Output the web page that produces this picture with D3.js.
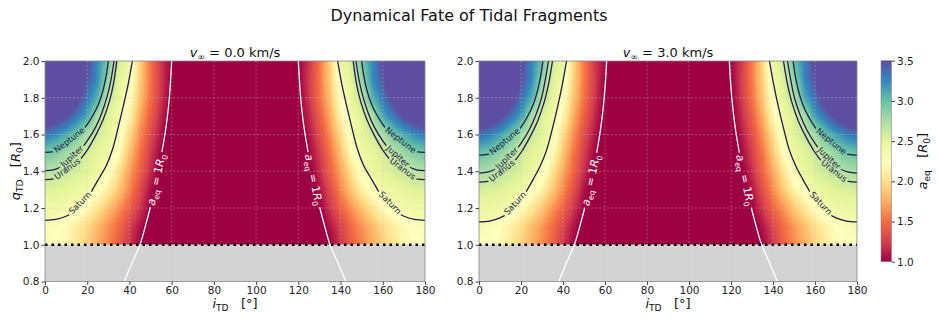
<!DOCTYPE html>
<html>
<head>
<meta charset="utf-8">
<script src="https://cdn.jsdelivr.net/npm/d3@7"></script>
<style>
  body { margin: 0; background: #fff; }
  svg { font-family: 'DejaVu Sans', sans-serif; }
  text { white-space: pre; }
</style>
</head>
<body>
<div id="chart"></div>
<script>
// ---- data ----
// a_eq grid: rows = q_TD (1.0 .. 2.0), columns = i_TD (0 .. 65 deg); field is mirrored about i = 90
const incl = [0, 5, 10, 15, 20, 25, 30, 35, 40, 45, 50, 55, 60, 65];
const qRows = [1.0, 1.1, 1.2, 1.3, 1.4, 1.5, 1.6, 1.7, 1.8, 1.9, 2.0];

const aeqV0 = [
  [2.27, 2.24, 2.17, 2.05, 1.91, 1.74, 1.59, 1.42, 1.21, 1.00, 0.85, 0.72, 0.62, 0.55],
  [2.32, 2.29, 2.21, 2.11, 1.97, 1.80, 1.64, 1.48, 1.28, 1.08, 0.92, 0.78, 0.66, 0.58],
  [2.41, 2.40, 2.38, 2.35, 2.23, 2.05, 1.84, 1.64, 1.44, 1.22, 0.99, 0.85, 0.72, 0.62],
  [2.54, 2.52, 2.49, 2.43, 2.38, 2.30, 2.12, 1.87, 1.60, 1.33, 1.06, 0.88, 0.75, 0.65],
  [2.71, 2.68, 2.63, 2.57, 2.51, 2.44, 2.32, 2.02, 1.70, 1.44, 1.17, 0.94, 0.80, 0.69],
  [2.95, 2.90, 2.79, 2.67, 2.56, 2.48, 2.41, 2.23, 1.84, 1.52, 1.24, 1.01, 0.85, 0.73],
  [3.31, 3.23, 3.10, 2.95, 2.74, 2.59, 2.48, 2.35, 1.98, 1.62, 1.33, 1.08, 0.90, 0.77],
  [3.75, 3.68, 3.52, 3.32, 3.12, 2.72, 2.52, 2.39, 2.17, 1.74, 1.42, 1.15, 0.93, 0.80],
  [4.20, 4.10, 3.88, 3.58, 3.32, 3.07, 2.65, 2.48, 2.27, 1.84, 1.50, 1.21, 0.96, 0.83],
  [4.70, 4.58, 4.25, 3.82, 3.46, 3.21, 2.81, 2.51, 2.36, 1.90, 1.52, 1.23, 0.98, 0.85],
  [5.26, 5.10, 4.70, 4.10, 3.52, 3.23, 2.95, 2.57, 2.44, 1.92, 1.52, 1.21, 1.00, 0.86]
];

const aeqV3 = [
  [2.30, 2.27, 2.20, 2.08, 1.94, 1.77, 1.61, 1.44, 1.22, 1.01, 0.86, 0.73, 0.63, 0.56],
  [2.35, 2.32, 2.24, 2.14, 2.00, 1.83, 1.67, 1.50, 1.30, 1.09, 0.93, 0.79, 0.67, 0.59],
  [2.44, 2.43, 2.41, 2.38, 2.26, 2.08, 1.87, 1.66, 1.46, 1.23, 1.00, 0.86, 0.73, 0.63],
  [2.58, 2.56, 2.53, 2.47, 2.41, 2.33, 2.15, 1.90, 1.62, 1.35, 1.08, 0.89, 0.76, 0.66],
  [2.76, 2.73, 2.68, 2.61, 2.55, 2.47, 2.35, 2.05, 1.73, 1.46, 1.19, 0.96, 0.81, 0.70],
  [3.00, 2.95, 2.84, 2.71, 2.60, 2.51, 2.44, 2.26, 1.87, 1.54, 1.26, 1.03, 0.86, 0.74],
  [3.36, 3.28, 3.15, 2.99, 2.78, 2.63, 2.51, 2.38, 2.01, 1.64, 1.35, 1.10, 0.91, 0.78],
  [3.80, 3.73, 3.57, 3.36, 3.16, 2.76, 2.56, 2.42, 2.20, 1.76, 1.44, 1.17, 0.94, 0.81],
  [4.25, 4.15, 3.93, 3.63, 3.36, 3.11, 2.69, 2.51, 2.30, 1.87, 1.52, 1.23, 0.97, 0.84],
  [4.75, 4.63, 4.30, 3.87, 3.50, 3.25, 2.85, 2.54, 2.39, 1.93, 1.54, 1.25, 0.99, 0.86],
  [5.30, 5.15, 4.75, 4.15, 3.56, 3.27, 2.99, 2.60, 2.47, 1.95, 1.55, 1.24, 1.02, 0.87]
];

// contour lines [i_TD, q_TD], left half only (mirrored about 90 deg)
const neptuneV0 = [[0,1.503],[4,1.507],[8,1.52],[12,1.55],[16,1.595],[20,1.655],[23,1.71],[25.5,1.77],[27.5,1.84],[29,1.92],[30,2.0]];
const jupiterV0 = [[0,1.403],[4,1.408],[8,1.425],[12,1.46],[16,1.505],[20,1.565],[24,1.64],[27,1.72],[29.5,1.81],[31.3,1.9],[32.7,2.0]];
const uranusV0  = [[0,1.354],[4,1.358],[8,1.375],[12,1.405],[16,1.455],[20,1.515],[24,1.595],[27.5,1.68],[30.5,1.78],[32.5,1.88],[34,2.0]];
const saturnV0  = [[0,1.133],[5,1.138],[10,1.155],[15,1.19],[19,1.235],[22.5,1.30],[26,1.37],[29,1.43],[32,1.52],[34.7,1.64],[37.2,1.76],[39.5,1.88],[41.4,2.0]];
const unitV0    = [[37.5,0.8],[41.2,0.9],[45,1.0],[47.5,1.1],[49.8,1.2],[51.8,1.3],[53.6,1.4],[55.3,1.5],[56.8,1.6],[58,1.7],[58.9,1.8],[59.5,1.9],[60,2.0]];

const neptuneV3 = [[0,1.488],[4,1.492],[8,1.505],[12,1.535],[16,1.58],[20,1.64],[23,1.695],[25.7,1.76],[27.8,1.835],[29.4,1.92],[30.4,2.0]];
const jupiterV3 = [[0,1.39],[4,1.395],[8,1.412],[12,1.447],[16,1.492],[20,1.552],[24,1.627],[27.2,1.71],[29.8,1.80],[31.6,1.9],[33.1,2.0]];
const uranusV3  = [[0,1.341],[4,1.345],[8,1.362],[12,1.392],[16,1.442],[20,1.502],[24,1.58],[27.8,1.67],[31,1.775],[33.3,1.885],[35,2.0]];
const saturnV3  = [[0,1.124],[5,1.129],[10,1.146],[15,1.181],[19,1.226],[22.5,1.29],[26,1.36],[29.2,1.43],[32.2,1.515],[35,1.635],[37.5,1.755],[39.8,1.88],[41.7,2.0]];
const unitV3    = [[38,0.8],[41.6,0.9],[45.4,1.0],[48,1.1],[50.3,1.2],[52.4,1.3],[54.3,1.4],[56,1.5],[57.5,1.6],[58.7,1.7],[59.6,1.8],[60.3,1.9],[60.8,2.0]];

const xTicks = [0, 20, 40, 60, 80, 100, 120, 140, 160, 180];
const yTicks = [0.8, 1.0, 1.2, 1.4, 1.6, 1.8, 2.0];
const cbTicks = [1.0, 1.5, 2.0, 2.5, 3.0, 3.5];

const panels = [
  { x0: 45, x1: 425, vinf: '0.0', grid: aeqV0,
    planets: [['Neptune', neptuneV0, [4.5, 18.5]], ['Jupiter', jupiterV0, [7, 18.5]],
              ['Uranus', uranusV0, [4, 17]], ['Saturn', saturnV0, [10.6, 22.4]]],
    unit: unitV0, unitSpan: [50.2, 55.1] },
  { x0: 479, x1: 857, vinf: '3.0', grid: aeqV3,
    planets: [['Neptune', neptuneV3, [5, 19.4]], ['Jupiter', jupiterV3, [7.8, 18.6]],
              ['Uranus', uranusV3, [4.8, 17]], ['Saturn', saturnV3, [11.5, 22.8]]],
    unit: unitV3, unitSpan: [50.6, 55.8] }
];

// ---- setup ----
const W = 938, H = 319;
const ink = '#231a4d';
const svg = d3.select('#chart').append('svg').attr('width', W).attr('height', H);
const y = d3.scaleLinear().domain([0.8, 2.0]).range([281.5, 61]);
const color = d3.scaleLinear()
    .domain(d3.range(11).map(k => 1 + k * 0.25))
    .range(d3.schemeSpectral[11])
    .clamp(true);

// math-ish text: parts = [text, italic?, sub?]
function mathText(sel, parts, size){
    let sub = false;
    parts.forEach(([t, it, s]) => {
        const ts = sel.append('tspan').text(t)
            .attr('font-style', it ? 'italic' : 'normal')
            .attr('font-size', s ? size * 0.7 : size);
        if(s && !sub) ts.attr('dy', size * 0.25);
        if(!s && sub) ts.attr('dy', -size * 0.25);
        sub = s;
    });
    return sel;
}

function bilinear(grid, fx, fy){
    const nc = grid[0].length, nr = grid.length;
    const c0 = Math.min(Math.floor(fx), nc - 2), r0 = Math.min(Math.floor(fy), nr - 2);
    const tx = fx - c0, ty = fy - r0;
    return grid[r0][c0] * (1 - tx) * (1 - ty) + grid[r0][c0 + 1] * tx * (1 - ty)
         + grid[r0 + 1][c0] * (1 - tx) * ty + grid[r0 + 1][c0 + 1] * tx * ty;
}

// q on a contour at a given inclination
function qAt(line, inc){
    return d3.scaleLinear().domain(line.map(d => d[0])).range(line.map(d => d[1]))(inc);
}

const colIdx = d3.scaleLinear().domain(d3.extent(incl)).range([0, incl.length - 1]).clamp(true);
const rowIdx = d3.scaleLinear().domain(d3.extent(qRows)).range([0, qRows.length - 1]).clamp(true);

// title
svg.append('text')
    .attr('x', 469).attr('y', 21)
    .attr('text-anchor', 'middle')
    .attr('font-size', 16)
    .attr('fill', '#111')
    .text('Dynamical Fate of Tidal Fragments');

panels.forEach((p, pi) => {
    const x = d3.scaleLinear().domain([0, 180]).range([p.x0, p.x1]);
    const g = svg.append('g');
    const top = y(2.0), bot = y(1.0), base = y(0.8);

    // heatmap
    const w = Math.round(p.x1 - p.x0), h = Math.round(bot - top);
    const canvas = document.createElement('canvas');
    canvas.width = w; canvas.height = h;
    const ctx = canvas.getContext('2d');
    const img = ctx.createImageData(w, h);
    for(let py = 0; py < h; py++){
        const q = y.invert(top + (py + 0.5) * (bot - top) / h);
        for(let px = 0; px < w; px++){
            let inc = x.invert(p.x0 + (px + 0.5) * (p.x1 - p.x0) / w);
            if(inc > 90) inc = 180 - inc;
            const c = d3.rgb(color(bilinear(p.grid, colIdx(inc), rowIdx(q))));
            const k = (py * w + px) * 4;
            img.data[k] = c.r; img.data[k + 1] = c.g; img.data[k + 2] = c.b; img.data[k + 3] = 255;
        }
    }
    ctx.putImageData(img, 0, 0);
    g.append('image')
        .attr('href', canvas.toDataURL())
        .attr('x', p.x0).attr('y', top)
        .attr('width', p.x1 - p.x0).attr('height', bot - top)
        .attr('preserveAspectRatio', 'none');

    // forbidden zone below q = 1
    g.append('rect')
        .attr('x', p.x0).attr('y', bot)
        .attr('width', p.x1 - p.x0).attr('height', base - bot)
        .attr('fill', '#d3d3d3');

    // grid
    g.append('g').selectAll('line').data(xTicks.slice(1, -1)).join('line')
        .attr('x1', d => x(d)).attr('x2', d => x(d))
        .attr('y1', top).attr('y2', base)
        .attr('stroke', '#c8c8c8').attr('stroke-opacity', 0.45)
        .attr('stroke-width', 0.8).attr('stroke-dasharray', '2,2');
    g.append('g').selectAll('line').data(yTicks.slice(1, -1)).join('line')
        .attr('x1', p.x0).attr('x2', p.x1)
        .attr('y1', d => y(d)).attr('y2', d => y(d))
        .attr('stroke', '#c8c8c8').attr('stroke-opacity', 0.45)
        .attr('stroke-width', 0.8).attr('stroke-dasharray', '2,2');

    // clip + label gaps
    const defs = g.append('defs');
    defs.append('clipPath').attr('id', 'clip' + pi)
        .append('rect').attr('x', p.x0).attr('y', top)
        .attr('width', p.x1 - p.x0).attr('height', base - top);
    const mask = defs.append('mask').attr('id', 'gap' + pi).attr('maskUnits', 'userSpaceOnUse')
        .attr('x', 0).attr('y', 0).attr('width', W).attr('height', H);
    mask.append('rect').attr('width', W).attr('height', H).attr('fill', '#fff');

    const lineGen = d3.line().x(d => x(d[0])).y(d => y(d[1])).curve(d3.curveCatmullRom);
    const mirror = line => line.map(d => [180 - d[0], d[1]]).reverse();

    const lines = g.append('g').attr('clip-path', `url(#clip${pi})`)
        .append('g').attr('mask', `url(#gap${pi})`);
    const labels = g.append('g');

    function addLabel(line, span, side, size, fill, parts){
        let a = [span[0], qAt(line, span[0])], b = [span[1], qAt(line, span[1])];
        if(side){ const a2 = [180 - b[0], b[1]], b2 = [180 - a[0], a[1]]; a = a2; b = b2; }
        const ax = x(a[0]), ay = y(a[1]), bx = x(b[0]), by = y(b[1]);
        const cx = (ax + bx) / 2, cy = (ay + by) / 2;
        const ang = Math.atan2(by - ay, bx - ax) * 180 / Math.PI;
        const t = labels.append('text')
            .attr('transform', `translate(${cx},${cy}) rotate(${ang})`)
            .attr('text-anchor', 'middle')
            .attr('dy', '0.35em')
            .attr('font-size', size)
            .attr('fill', fill);
        mathText(t, parts, size);
        const len = t.node().getComputedTextLength();
        mask.append('rect')
            .attr('x', -len / 2 - 2).attr('y', -size * 0.6)
            .attr('width', len + 4).attr('height', size * 1.2)
            .attr('fill', '#000')
            .attr('transform', `translate(${cx},${cy}) rotate(${ang})`);
    }

    p.planets.forEach(([name, line, span]) => {
        [line, mirror(line)].forEach(l => {
            lines.append('path').attr('d', lineGen(l))
                .attr('fill', 'none').attr('stroke', ink).attr('stroke-width', 1.3);
        });
        [0, 1].forEach(side => addLabel(line, span, side, 8.5, ink, [[name, false, false]]));
    });

    [p.unit, mirror(p.unit)].forEach(l => {
        lines.append('path').attr('d', lineGen(l))
            .attr('fill', 'none').attr('stroke', '#fff').attr('stroke-width', 1.3);
    });
    [0, 1].forEach(side => addLabel(p.unit, p.unitSpan, side, 11, '#fff',
        [['a', true, false], ['eq', false, true], [' = 1', false, false], ['R', true, false], ['0', false, true]]));

    // q = 1 boundary
    g.append('line')
        .attr('x1', p.x0).attr('x2', p.x1)
        .attr('y1', bot).attr('y2', bot)
        .attr('stroke', '#000').attr('stroke-width', 2.5)
        .attr('stroke-dasharray', '2.5,4');

    // frame
    g.append('rect')
        .attr('x', p.x0).attr('y', top)
        .attr('width', p.x1 - p.x0).attr('height', base - top)
        .attr('fill', 'none').attr('stroke', '#888').attr('stroke-width', 0.8);

    // axes
    const xa = g.append('g').attr('transform', `translate(0,${base})`)
        .call(d3.axisBottom(x).tickValues(xTicks).tickSize(3.5).tickPadding(2));
    const ya = g.append('g').attr('transform', `translate(${p.x0},0)`)
        .call(d3.axisLeft(y).tickValues(yTicks).tickFormat(d3.format('.1f')).tickSize(3.5).tickPadding(2));
    [xa, ya].forEach(a => {
        a.select('.domain').remove();
        a.attr('font-family', null).attr('font-size', 10.5);
        a.selectAll('line').attr('stroke', '#444');
        a.selectAll('text').attr('fill', '#222');
    });

    // subplot title
    mathText(g.append('text')
        .attr('x', (p.x0 + p.x1) / 2).attr('y', 57)
        .attr('text-anchor', 'middle').attr('fill', '#111'),
        [['v', true, false], ['\u221e', false, true], [' = ' + p.vinf + ' km/s', false, false]], 13);

    // x label
    mathText(g.append('text')
        .attr('x', (p.x0 + p.x1) / 2).attr('y', 308)
        .attr('text-anchor', 'middle').attr('fill', '#111'),
        [['i', true, false], ['TD', false, true], ['   [\u00b0]', false, false]], 13);
});

// y label
mathText(svg.append('text')
    .attr('transform', `translate(20,${y(1.4)}) rotate(-90)`)
    .attr('text-anchor', 'middle').attr('fill', '#111'),
    [['q', true, false], ['TD', false, true], ['   [', false, false], ['R', true, false], ['0', false, true], [']', false, false]], 13);

// colorbar
const cbX = 881, cbW = 10.5;
const cy = d3.scaleLinear().domain([1.0, 3.5]).range([261.7, 60.7]);
const grad = svg.append('defs').append('linearGradient')
    .attr('id', 'cbgrad').attr('x1', 0).attr('x2', 0).attr('y1', 1).attr('y2', 0);
grad.selectAll('stop').data(color.domain()).join('stop')
    .attr('offset', d => (d - 1) / 2.5)
    .attr('stop-color', d => color(d));
svg.append('rect')
    .attr('x', cbX).attr('y', cy(3.5))
    .attr('width', cbW).attr('height', cy(1.0) - cy(3.5))
    .attr('fill', 'url(#cbgrad)')
    .attr('stroke', '#888').attr('stroke-width', 0.6);
const cba = svg.append('g').attr('transform', `translate(${cbX + cbW},0)`)
    .call(d3.axisRight(cy).tickValues(cbTicks).tickFormat(d3.format('.1f')).tickSize(3.5).tickPadding(2));
cba.select('.domain').remove();
cba.attr('font-family', null).attr('font-size', 10.5);
cba.selectAll('line').attr('stroke', '#444');
cba.selectAll('text').attr('fill', '#222');

mathText(svg.append('text')
    .attr('transform', `translate(927,${cy(2.25)}) rotate(-90)`)
    .attr('text-anchor', 'middle').attr('fill', '#111'),
    [['a', true, false], ['eq', false, true], ['   [', false, false], ['R', true, false], ['0', false, true], [']', false, false]], 13);
</script>
</body>
</html>
